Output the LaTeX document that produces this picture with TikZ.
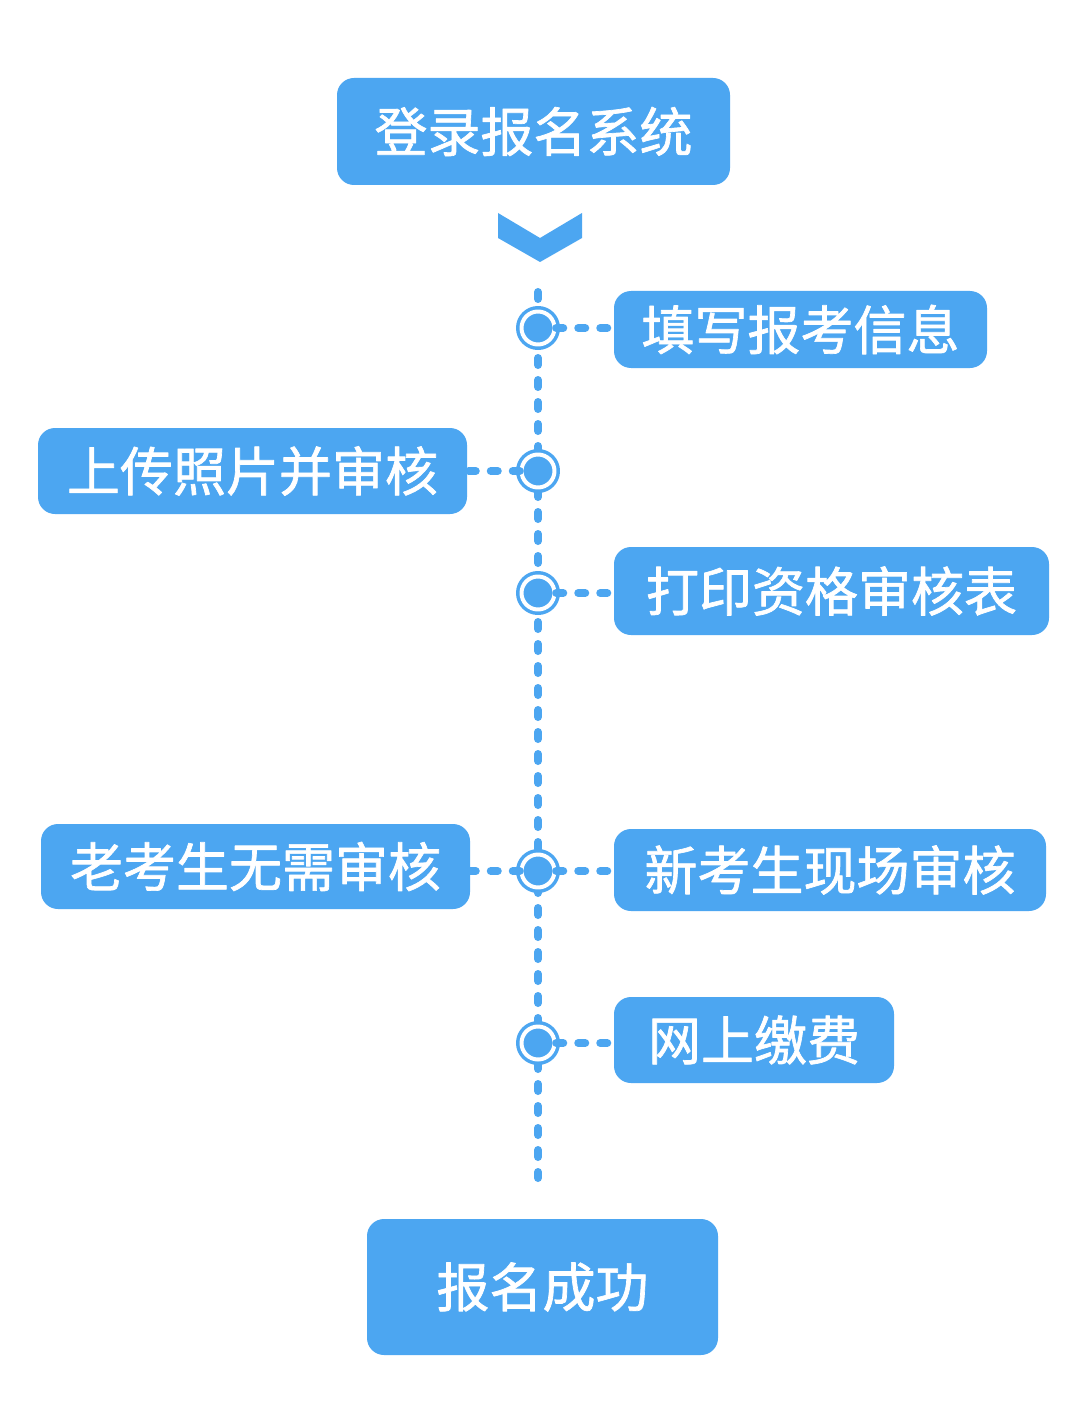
\documentclass[tikz,border=0pt]{standalone}
\usepackage{fontspec}
\newfontfamily\cjk[FakeBold=1.3]{Noto Sans CJK SC}
\definecolor{flowblue}{RGB}{76,166,241}

\tikzset{
    stepbox/.style={fill=flowblue,rounded corners=17pt,text=white,
        font=\cjk\fontsize{53}{53}\selectfont,inner sep=0pt},
    hub/.style={circle,draw=flowblue,fill=flowblue,line width=3.5pt,
        double=white,double distance=4pt,minimum size=33pt,inner sep=0pt},
    link/.style={flowblue,line width=8pt,line cap=round,
        dash pattern=on 7pt off 15pt}
}

\begin{document}
\begin{tikzpicture}[x=1pt,y=-1pt,line join=round]
        \useasboundingbox[fill=white] (0,0) rectangle (1080,1412);

        % Cajas de inicio y fin
        \node[stepbox,minimum width=393,minimum height=107] (login) at (533.5,131.5) {登录报名系统};
        \node[stepbox,minimum width=351,minimum height=136] (done) at (542.5,1287) {报名成功};

        % Flecha
        \fill[flowblue] (498,213) -- (540,238) -- (582,213) -- (582,238)
            -- (540,262) -- (498,238) -- cycle;

        % Eje vertical
        \coordinate (top) at (538,292);
        \coordinate (bot) at (538,1178);
        \draw[link] (top) -- (bot);

        % Pasos
        \node[stepbox,minimum width=373,minimum height=77] (fill) at (800.5,329.5) {填写报考信息};
        \node[stepbox,minimum width=429,minimum height=86] (photo) at (252.5,471) {上传照片并审核};
        \node[stepbox,minimum width=435,minimum height=88] (print) at (831.5,591) {打印资格审核表};
        \node[stepbox,minimum width=429,minimum height=85] (old) at (255.5,866.5) {老考生无需审核};
        \node[stepbox,minimum width=432,minimum height=82] (new) at (830,870) {新考生现场审核};
        \node[stepbox,minimum width=280,minimum height=86] (pay) at (754,1040) {网上缴费};

        % Nudos sobre el eje
        \node[hub] (h1) at (538,328) {};
        \node[hub] (h2) at (538,471) {};
        \node[hub] (h3) at (538,593) {};
        \node[hub] (h4) at (538,871) {};
        \node[hub] (h5) at (538,1043) {};

        % Enlaces
        \draw[link] (h1) -- (h1 -| fill.west);
        \draw[link] (h2) -- (h2 -| photo.east);
        \draw[link] (h3) -- (h3 -| print.west);
        \draw[link] (h4) -- (h4 -| old.east);
        \draw[link] (h4) -- (h4 -| new.west);
        \draw[link] (h5) -- (h5 -| pay.west);
    \end{tikzpicture}
\end{document}
